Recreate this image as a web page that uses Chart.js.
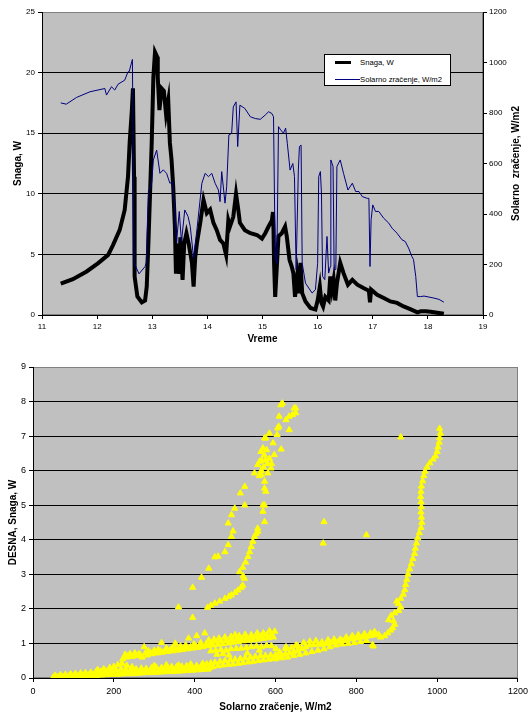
<!DOCTYPE html>
<html><head><meta charset="utf-8">
<script src="https://cdn.jsdelivr.net/npm/chart.js@4/dist/chart.umd.min.js"></script>
<style>
html,body{margin:0;padding:0;background:#fff;}
#wrap{position:relative;width:532px;height:715px;overflow:hidden;}
#c1{position:absolute;left:0;top:0;}
#c2{position:absolute;left:0;top:350px;}
#legend{position:absolute;left:324px;top:54px;width:125px;height:30px;border:1px solid #000;background:#fff;font:7.7px Arial,'Liberation Sans',sans-serif;color:#000;}
#legend .sw1{position:absolute;left:10px;top:6px;width:16px;height:3px;background:#000;}
#legend .sw2{position:absolute;left:10px;top:24px;width:25px;height:1px;background:#000080;}
#legend .t1{position:absolute;left:35px;top:3px;white-space:nowrap;}
#legend .t2{position:absolute;left:35px;top:20px;white-space:nowrap;}
</style></head>
<body>
<div id="wrap">
<canvas id="c1" width="532" height="350" style="width:532px;height:350px"></canvas>
<canvas id="c2" width="532" height="365" style="width:532px;height:365px"></canvas>
<div id="legend"><div class="sw1"></div><div class="t1">Snaga, W</div><div class="sw2"></div><div class="t2">Solarno zračenje, W/m2</div></div>
</div>
<script>
// ---------- Top chart data ----------
const seriesNames = ['Snaga, W', 'Solarno zračenje, W/m2'];
const snagaTime = [11.34,11.56,11.81,12.02,12.2,12.29,12.41,12.5,12.56,12.59,12.63,12.65,12.67,12.68,12.73,12.81,12.87,12.9,12.93,12.96,12.99,13.02,13.05,13.09,13.1,13.13,13.17,13.21,13.25,13.29,13.32,13.35,13.38,13.41,13.43,13.45,13.49,13.51,13.55,13.58,13.62,13.66,13.72,13.75,13.78,13.81,13.87,13.93,13.99,14.05,14.11,14.17,14.23,14.29,14.34,14.38,14.41,14.47,14.52,14.56,14.59,14.68,14.78,14.9,14.99,15.05,15.11,15.17,15.19,15.2,15.21,15.23,15.26,15.29,15.35,15.41,15.44,15.49,15.53,15.56,15.59,15.63,15.66,15.69,15.72,15.78,15.87,15.96,16.0,16.04,16.07,16.1,16.14,16.2,16.23,16.26,16.29,16.32,16.35,16.41,16.47,16.55,16.63,16.72,16.84,16.93,16.95,16.97,17.08,17.2,17.32,17.44,17.56,17.68,17.81,17.87,17.96,18.05,18.17,18.29];
const snagaW = [2.58,2.96,3.59,4.28,4.96,5.79,7.02,8.67,11.4,14.2,16.9,18.7,11.4,3.18,1.53,1.04,1.2,2.35,5.9,10.0,14.2,19.6,21.7,21.3,19.6,16.9,18.7,18.5,16.6,17.7,14.2,12.8,10.6,7.4,3.4,5.9,3.4,6.4,2.9,5.9,6.75,5.9,4.3,2.35,4.8,5.9,7.6,9.5,8.4,8.7,7.6,7.0,6.2,5.9,4.96,7.8,7.3,8.1,10.0,8.7,7.6,7.0,6.75,6.6,6.3,6.75,7.3,7.8,8.5,7.0,4.3,1.5,4.0,6.5,6.75,7.3,6.5,4.55,4.0,3.45,1.5,3.2,1.8,4.3,1.8,1.12,0.58,0.45,1.2,2.35,1.0,0.7,1.5,1.2,3.18,2.1,2.9,1.2,2.6,4.3,3.45,2.5,2.9,2.5,2.2,2.0,1.04,2.1,1.67,1.4,1.12,1.0,0.71,0.49,0.22,0.3,0.3,0.27,0.19,0.1];
const solarTime = [11.34,11.44,11.63,11.87,12.14,12.17,12.26,12.32,12.38,12.5,12.56,12.58,12.64,12.67,12.76,12.87,12.89,12.93,12.99,13.02,13.08,13.14,13.2,13.26,13.32,13.37,13.41,13.44,13.49,13.53,13.59,13.65,13.69,13.75,13.81,13.9,13.96,14.02,14.08,14.14,14.2,14.23,14.26,14.32,14.35,14.39,14.44,14.47,14.52,14.55,14.59,14.68,14.78,14.87,14.96,15.05,15.11,15.17,15.2,15.23,15.26,15.29,15.33,15.38,15.42,15.45,15.5,15.55,15.58,15.61,15.65,15.67,15.7,15.72,15.78,15.9,15.96,16.0,16.02,16.05,16.07,16.09,16.13,16.17,16.2,16.23,16.24,16.28,16.3,16.33,16.35,16.41,16.47,16.55,16.63,16.69,16.75,16.81,16.9,16.93,16.95,16.97,17.0,17.05,17.11,17.2,17.29,17.35,17.44,17.53,17.59,17.65,17.71,17.74,17.78,17.81,17.87,17.93,18.02,18.11,18.2,18.29];
const solarWm2 = [840,835,862,884,897,871,904,891,914,930,963,963,1012,207,163,192,207,489,523,614,653,561,575,561,522,527,416,286,410,290,416,390,350,225,337,522,561,548,561,522,495,449,568,443,508,713,719,824,844,667,831,818,785,778,775,792,805,798,785,232,205,746,733,720,740,680,574,600,548,179,574,667,673,205,126,87,100,205,548,568,480,153,140,311,166,192,614,588,179,180,588,614,561,495,522,489,489,469,462,462,192,377,436,410,410,383,364,344,324,298,291,265,232,219,153,73,73,75,71,67,62,51];
const timeTicks = [11,12,13,14,15,16,17,18,19];

// ---------- Bottom chart data (Solarno zračenje, W/m2 ; DESNA Snaga, W) ----------
const lowerBand = [[50,0.02],[62,0.03],[75,0.04],[88,0.05],[100,0.06],[113,0.07],[125,0.08],[138,0.09],[150,0.1],[163,0.1],[175,0.11],[188,0.12],[200,0.13],[213,0.14],[225,0.14],[238,0.15],[250,0.16],[263,0.17],[275,0.17],[288,0.18],[300,0.19],[313,0.2],[325,0.21],[338,0.21],[350,0.22],[363,0.23],[375,0.24],[388,0.25],[400,0.26],[413,0.27],[425,0.28],[438,0.3],
 [55,0.07],[68,0.09],[80,0.1],[93,0.12],[105,0.13],[118,0.14],[130,0.15],[143,0.16],[155,0.17],[168,0.19],[180,0.2],[193,0.22],[205,0.24],[218,0.26],[230,0.24],[243,0.25],[255,0.26],[268,0.28],[280,0.27],[293,0.29],[305,0.31],[318,0.3],[330,0.31],[343,0.33],[355,0.32],[368,0.34],[380,0.35],[393,0.34],[405,0.36],[418,0.38],[430,0.4],[440,0.43],
 [160,0.24],[175,0.26],[190,0.3],[200,0.33],[210,0.38],[220,0.42],[232,0.36],[245,0.32],[300,0.36],[330,0.38],[360,0.37],[390,0.4],[420,0.42],
 [58,0.0],[70,0.01],[83,0.02],[95,0.03],[108,0.04],[120,0.05],[133,0.06],[145,0.06],[158,0.07],[170,0.08],[183,0.09],[195,0.1],[208,0.1],[220,0.11],[233,0.12],[245,0.12],[258,0.13],[270,0.14],[283,0.15],[295,0.15],[308,0.16],[320,0.17],[333,0.18],[345,0.18],[358,0.19],[370,0.2],[383,0.21],[395,0.22],[408,0.23],[420,0.24],[433,0.25]];
const middleBand = [[222,0.55],[232,0.6],[245,0.62],[258,0.64],[270,0.6],[283,0.66],[295,0.7],[308,0.72],[320,0.74],[333,0.76],[345,0.78],[358,0.8],[370,0.82],[383,0.84],[395,0.86],[408,0.88],[420,0.9],[433,0.93],[445,0.95],[458,0.97],[470,0.99],[483,1.01],[495,1.03],[508,1.05],[520,1.07],[533,1.09],[545,1.1],[558,1.12],[570,1.14],[583,1.16],[595,1.18],
 [228,0.68],[240,0.7],[252,0.72],[265,0.68],[275,0.9],[285,0.78],[300,0.8],[310,0.82],[318,1.02],[330,0.86],[345,0.88],[352,1.0],[365,0.92],[378,0.95],[385,1.15],[398,0.98],[405,1.22],[415,1.02],[425,1.3],[435,1.1],[448,1.12],[460,1.15],[475,1.18],[490,1.2],[500,1.25],[510,1.22],[525,1.26],[540,1.25],[555,1.3],[570,1.3],[585,1.36],[598,1.35],
 [235,0.64],[250,0.67],[262,0.7],[278,0.72],[290,0.74],[303,0.76],[315,0.78],[328,0.8],[340,0.82],[353,0.84],[365,0.86],[378,0.88],[390,0.9],[403,0.92],[415,0.95],[428,0.98],[440,1.02],[453,1.04],[465,1.06],[478,1.08],[490,1.1],[503,1.12],[515,1.14],[528,1.16],[540,1.18],[553,1.2],[565,1.22],[578,1.24],[590,1.26]];
const shiftedBand = [[445,0.33],[458,0.35],[470,0.37],[483,0.39],[495,0.4],[508,0.42],[520,0.44],[533,0.46],[545,0.48],[558,0.5],[570,0.52],[583,0.54],[595,0.56],
 [450,0.45],[463,0.48],[475,0.5],[488,0.52],[500,0.54],[513,0.56],[525,0.58],[538,0.6],[550,0.62],[563,0.64],[575,0.65],[588,0.66],[600,0.67],
 [440,0.78],[452,0.8],[465,0.82],[478,0.8],[490,0.84],[503,0.85],[515,0.86],[528,0.88],[540,0.9],[553,0.92],[565,0.9],[578,0.94],[590,0.93],[455,0.68],[470,0.7],[485,0.66],[530,0.72],[560,0.8]];
const highBand = [[605,0.62],[615,0.66],[625,0.7],[635,0.72],[645,0.76],[655,0.8],[665,0.85],[675,0.9],[685,0.95],[695,0.96],[705,0.98],[715,0.97],[725,0.99],[735,1.02],[745,1.03],[755,1.05],[765,1.08],[775,1.1],[785,1.13],[795,1.15],[805,1.17],[815,1.18],[825,1.2],[835,1.22],[845,1.24],[855,1.26],
 [610,0.75],[625,0.85],[640,0.88],[655,0.93],[670,1.02],[685,1.06],[700,1.08],[715,1.04],[730,1.1],[745,1.12],[760,1.12],[775,1.18],[790,1.22],[805,1.25],[820,1.28],[835,1.3],[845,1.34],
 [600,0.55],[615,0.58],[630,0.6],[645,0.65],[660,0.68],[675,0.72],[690,0.76],[705,0.8],[720,0.84],[735,0.9],[750,0.95],[765,0.98],[780,1.0],[795,1.02],[810,1.05],[825,1.08],[840,0.96],[842,0.92],
 [601,0.85],[626,0.9],[651,0.95]];
const rightCurve = [[860,1.18],[870,1.22],[878,1.3],[885,1.38],[890,1.45],[895,1.55],[892,1.65],[880,1.68],[886,1.8],[895,1.88],[905,1.95],[910,2.05],[904,2.15],[900,2.22],[910,2.3],[916,2.42],[920,2.55],[922,2.7],[925,2.85],[928,3.0],[932,3.15],[936,3.3],[940,3.45],[944,3.6],[946,3.75],[949,3.9],[952,4.05],[956,4.2],[960,4.35],[962,4.5],[961,4.65],[960,4.8],[961,4.95],[960,5.1],[959,5.25],[960,5.4],[961,5.55],[964,5.7],[967,5.85],[970,5.98],[975,6.1],[982,6.22],[990,6.33],[996,6.42],[1000,6.55],[1002,6.68],[1005,6.82],[1006,6.95],[1008,7.08],[1006,7.22]];
const leftCurve = [[360,2.05],[395,1.75],[395,2.62],[417,2.91],[435,3.17],[450,3.5],[458,3.52],[475,3.65],[483,3.85],[491,4.09],[495,4.25],[483,4.48],[491,4.72],[499,4.91],[513,5.35],[524,5.54],[524,5.0]];
const innerCurve = [[432,2.04],[440,2.1],[450,2.16],[462,2.22],[475,2.3],[485,2.36],[491,2.4],[500,2.47],[507,2.54],[515,2.62],[519,2.68],[523,2.88],[520,2.95],[511,3.07],[519,3.2],[526,3.35],[532,3.51],[536,3.65],[540,3.8],[544,3.95],[548,4.09],[552,4.17],[556,4.24],[556,4.33],[573,4.52],[573,5.0],[569,5.0],[569,4.82],[573,5.49],[576,5.4],[573,5.69],[565,5.88],[548,5.93],[556,6.17],[561,6.27],[581,5.93],[589,6.07],[564,6.55],[569,6.65],[573,6.94],[576,6.94],[585,7.08],[594,6.8],[597,6.46],[605,7.23],[608,7.28],[604,7.04],[609,7.57],[613,7.9],[617,7.95],[626,7.47],[634,7.57],[634,7.18],[642,7.62],[646,7.81],[650,7.67],[650,7.81],[614,6.62],
 [560,5.85],[565,6.0],[570,6.1],[575,6.3],[580,6.2],[572,6.45],[578,6.6],[585,6.35],[590,6.2],[566,6.3]];
const isolated = [[910,6.97],[720,4.52],[718,3.9],[825,4.14]];
const xTicks2 = [0,200,400,600,800,1000,1200];

// ---------- helpers ----------
const FONT = "Arial, 'Liberation Sans', sans-serif";
const bgPlugin = {id:'bg', beforeDraw(chart){
  const {ctx, chartArea:a} = chart;
  ctx.save();
  ctx.fillStyle = '#C0C0C0';
  ctx.fillRect(a.left, a.top, a.right-a.left, a.bottom-a.top);
  ctx.strokeStyle = '#808080'; ctx.lineWidth = 1;
  ctx.strokeRect(Math.round(a.left)+0.5, Math.round(a.top)+0.5, Math.round(a.right-a.left)-1, Math.round(a.bottom-a.top)-1);
  ctx.restore();
}};
const rightTitle = {id:'rightTitle', afterDraw(chart){
  const {ctx, chartArea:a} = chart;
  ctx.save();
  ctx.translate(516, (a.top+a.bottom)/2);
  ctx.rotate(-Math.PI/2);
  ctx.font = 'bold 10px ' + FONT;
  ctx.fillStyle = '#000';
  ctx.textAlign = 'center'; ctx.textBaseline = 'middle';
  ctx.fillText('Solarno  zračenje, W/m2', 0, 0);
  ctx.restore();
}};
Chart.defaults.font.family = FONT;
Chart.defaults.color = '#000';
const plain = v => String(v);

const zip = (xs, ys) => xs.map((x,i) => ({x, y: ys[i]}));
const pts = arr => arr.map(p => ({x:p[0], y:p[1]}));

// ---------- Top chart ----------
new Chart(document.getElementById('c1'), {
  type: 'line',
  data: { datasets: [
    { label: seriesNames[1], data: zip(solarTime, solarWm2), yAxisID: 'y1', borderColor: '#000080', borderWidth: 1, pointRadius: 0, tension: 0, order: 0 },
    { label: seriesNames[0], data: zip(snagaTime, snagaW), yAxisID: 'y', borderColor: '#000', borderWidth: 4, pointRadius: 0, tension: 0, order: 1 }
  ]},
  options: {
    responsive: false, animation: false, devicePixelRatio: 1,
    layout: { padding: { top: 12, left: 0, right: 0, bottom: 0 } },
    plugins: { legend: { display: false }, tooltip: { enabled: false } },
    scales: {
      x: { type: 'linear', min: 11, max: 19,
        afterBuildTicks: s => { s.ticks = timeTicks.map(v => ({value: v})); },
        ticks: { font: { size: 8 }, padding: 3, maxRotation: 0, callback: plain },
        grid: { drawOnChartArea: false, tickLength: 4, tickColor: '#000' },
        border: { color: '#000' },
        title: { display: true, text: 'Vreme', font: { size: 10, weight: 'bold' }, padding: { top: 0, bottom: 5 } },
        afterFit: s => { s.height = 35; } },
      y: { position: 'left', min: 0, max: 25,
        ticks: { stepSize: 5, font: { size: 8 }, padding: 3, callback: plain },
        grid: { color: c => (c.tick && c.tick.value === 25) ? 'rgba(0,0,0,0)' : '#000', tickLength: 4, tickColor: '#000' },
        border: { color: '#000' },
        title: { display: true, text: 'Snaga, W', font: { size: 10, weight: 'bold' }, padding: { top: 12, bottom: 0 } },
        afterFit: s => { s.width = 42; } },
      y1: { position: 'right', min: 0, max: 1200,
        ticks: { stepSize: 200, font: { size: 8 }, padding: 2, callback: plain },
        grid: { drawOnChartArea: false, tickLength: 4, tickColor: '#000' },
        border: { color: '#000' },
        afterFit: s => { s.width = 49; } }
    }
  },
  plugins: [bgPlugin, rightTitle]
});

// ---------- Bottom chart ----------
const yellow = '#FFFF00';
const scatterSet = (arr) => ({ data: pts(arr), pointStyle: 'triangle', pointRadius: 3.6, backgroundColor: yellow, borderColor: yellow, borderWidth: 1 });
new Chart(document.getElementById('c2'), {
  type: 'scatter',
  data: { datasets: [lowerBand, middleBand, shiftedBand, highBand, rightCurve, leftCurve, innerCurve, isolated].map(scatterSet) },
  options: {
    responsive: false, animation: false, devicePixelRatio: 1,
    layout: { padding: { top: 17, left: 0, right: 10, bottom: 0 } },
    plugins: { legend: { display: false }, tooltip: { enabled: false } },
    scales: {
      x: { type: 'linear', min: 0, max: 1200,
        afterBuildTicks: s => { s.ticks = xTicks2.map(v => ({value: v})); },
        ticks: { font: { size: 9 }, padding: 4, maxRotation: 0, callback: plain },
        grid: { drawOnChartArea: false, tickLength: 4, tickColor: '#000' },
        border: { color: '#000' },
        title: { display: true, text: 'Solarno zračenje, W/m2', font: { size: 10, weight: 'bold' }, padding: { top: 0, bottom: 2 } },
        afterFit: s => { s.height = 37; } },
      y: { min: 0, max: 9,
        ticks: { stepSize: 1, font: { size: 9 }, padding: 3, callback: plain },
        grid: { color: c => (c.tick && c.tick.value === 9) ? 'rgba(0,0,0,0)' : '#000', tickLength: 4, tickColor: '#000' },
        border: { color: '#000' },
        title: { display: true, text: 'DESNA, Snaga, W', font: { size: 10, weight: 'bold' }, padding: { top: 7, bottom: 0 } },
        afterFit: s => { s.width = 33; } }
    }
  },
  plugins: [bgPlugin]
});
</script>
</body></html>
